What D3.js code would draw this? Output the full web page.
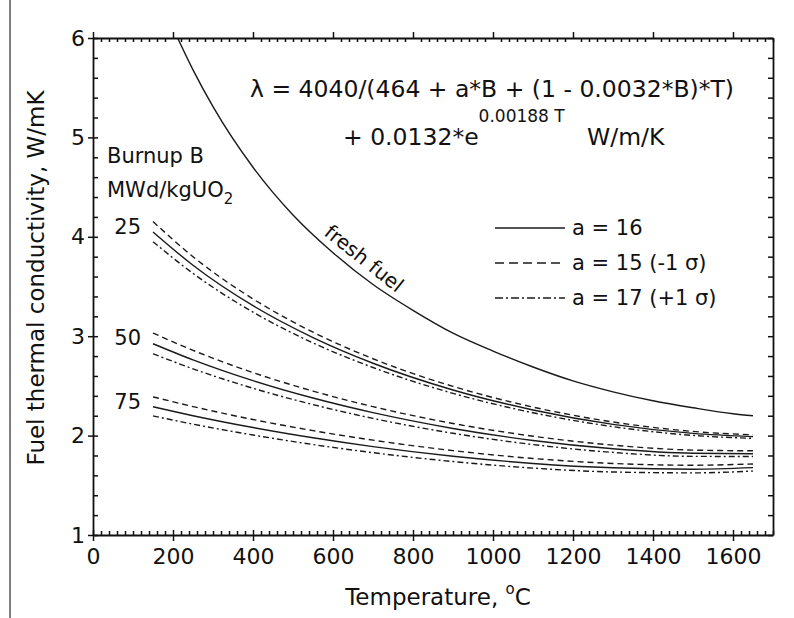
<!DOCTYPE html>
<html>
<head>
<meta charset="utf-8">
<script src="https://cdn.jsdelivr.net/npm/d3@7/dist/d3.min.js"></script>
<style>
  html, body { margin: 0; padding: 0; background: #fff; }
  svg { display: block; }
  text { font-family: "DejaVu Sans", "Liberation Sans", sans-serif; fill: #111; }
</style>
</head>
<body>
<svg id="chart" width="794" height="618"></svg>
<script>
// Temperature grids (°C)
const tempFresh = [200, 250, 300, 400, 500, 600, 700, 800, 900, 1000, 1100, 1200, 1300, 1400, 1500, 1600, 1650];
const tempBurnup = [150, 250, 400, 550, 700, 900, 1100, 1300, 1500, 1650];

// Thermal conductivity, W/m/K
const freshFuel = [6.10, 5.68, 5.31, 4.70, 4.22, 3.84, 3.52, 3.26, 3.03, 2.85, 2.69, 2.55, 2.44, 2.35, 2.28, 2.22, 2.20];

const b25a15 = [4.153, 3.800, 3.375, 3.041, 2.773, 2.495, 2.287, 2.137, 2.042, 2.008];
const b25a16 = [4.049, 3.714, 3.307, 2.986, 2.728, 2.459, 2.258, 2.113, 2.022, 1.990];
const b25a17 = [3.951, 3.632, 3.242, 2.933, 2.685, 2.425, 2.230, 2.090, 2.002, 1.972];

const b50a15 = [3.032, 2.858, 2.634, 2.448, 2.291, 2.122, 1.994, 1.904, 1.854, 1.847];
const b50a16 = [2.924, 2.762, 2.553, 2.378, 2.231, 2.072, 1.951, 1.867, 1.822, 1.818];
const b50a17 = [2.823, 2.672, 2.476, 2.312, 2.173, 2.023, 1.910, 1.831, 1.791, 1.790];

const b75a15 = [2.390, 2.292, 2.162, 2.050, 1.954, 1.849, 1.770, 1.720, 1.702, 1.715];
const b75a16 = [2.290, 2.200, 2.081, 1.978, 1.889, 1.792, 1.720, 1.676, 1.662, 1.678];
const b75a17 = [2.198, 2.115, 2.006, 1.910, 1.828, 1.739, 1.673, 1.634, 1.625, 1.643];

const burnupLabels = ["25", "50", "75"];
const legendLabels = ["a = 16", "a = 15 (-1 σ)", "a = 17 (+1 σ)"];
const xTickLabels = [0, 200, 400, 600, 800, 1000, 1200, 1400, 1600];
const yTickLabels = [1, 2, 3, 4, 5, 6];

// line styles for a = 16, 15, 17 (curves and legend samples)
const dashFor = { a16: null, a15: "6,4", a17: "6,3,2,3" };
const legendDash = [null, "9,5", "8,3,2,3"];

const svg = d3.select("#chart");
const x = d3.scaleLinear().domain([0, 1700]).range([93, 773]);
const y = d3.scaleLinear().domain([1, 6]).range([535, 38]);

// outer figure border on the left
svg.append("line").attr("x1", 10).attr("x2", 10).attr("y1", 0).attr("y2", 618)
  .attr("stroke", "#555").attr("stroke-width", 1.5);

svg.append("clipPath").attr("id", "plotClip").append("rect")
  .attr("x", x(0)).attr("y", y(6)).attr("width", x(1700) - x(0)).attr("height", y(1) - y(6));

// ---- curves ----
const line = d3.line().curve(d3.curveMonotoneX);
const plot = svg.append("g").attr("clip-path", "url(#plotClip)");

function drawCurve(temps, vals, dash) {
  plot.append("path")
    .attr("d", line(temps.map((t, i) => [x(t), y(vals[i])])))
    .attr("fill", "none")
    .attr("stroke", "#1a1a1a")
    .attr("stroke-width", 1.4)
    .attr("stroke-dasharray", dash);
}

drawCurve(tempFresh, freshFuel, null);
const groups = [
  { a15: b25a15, a16: b25a16, a17: b25a17 },
  { a15: b50a15, a16: b50a16, a17: b50a17 },
  { a15: b75a15, a16: b75a16, a17: b75a17 }
];
groups.forEach(g => {
  drawCurve(tempBurnup, g.a15, dashFor.a15);
  drawCurve(tempBurnup, g.a16, dashFor.a16);
  drawCurve(tempBurnup, g.a17, dashFor.a17);
});

// ---- axes ----
const minorX = d3.range(0, 1701, 20).filter(v => v % 200 !== 0);
const minorY = d3.range(10, 61, 2).map(v => v / 10).filter(v => !Number.isInteger(v));
const allY = d3.range(10, 61, 2).map(v => v / 10);

function styleAxis(g, keepDomain) {
  if (!keepDomain) g.select(".domain").remove();
  g.selectAll("line").attr("stroke", "#111").attr("stroke-width", 1.5);
  g.select(".domain").attr("stroke", "#111").attr("stroke-width", 1.8);
  g.selectAll("text").attr("font-size", 22).attr("fill", "#111")
    .style("font-family", "'DejaVu Sans', sans-serif");
}

const yBottom = y(1), yTop = y(6), xLeft = x(0), xRight = x(1700);

// bottom
svg.append("g").attr("transform", `translate(0,${yBottom})`)
  .call(d3.axisBottom(x).tickValues(xTickLabels).tickSizeInner(6).tickSizeOuter(0).tickPadding(7).tickFormat(d3.format("d")))
  .call(g => styleAxis(g, true));
svg.append("g").attr("transform", `translate(0,${yBottom})`)
  .call(d3.axisBottom(x).tickValues(xTickLabels).tickSize(-5).tickFormat(""))
  .call(g => styleAxis(g, false));
svg.append("g").attr("transform", `translate(0,${yBottom})`)
  .call(d3.axisBottom(x).tickValues(minorX).tickSize(-4).tickFormat(""))
  .call(g => styleAxis(g, false));

// top
svg.append("g").attr("transform", `translate(0,${yTop})`)
  .call(d3.axisTop(x).tickValues(xTickLabels).tickSizeInner(6).tickSizeOuter(0).tickFormat(""))
  .call(g => styleAxis(g, true));
svg.append("g").attr("transform", `translate(0,${yTop})`)
  .call(d3.axisTop(x).tickValues(minorX).tickSize(-4).tickFormat(""))
  .call(g => styleAxis(g, false));

// left
svg.append("g").attr("transform", `translate(${xLeft},0)`)
  .call(d3.axisLeft(y).tickValues(yTickLabels).tickSizeInner(5).tickSizeOuter(0).tickPadding(3).tickFormat(d3.format("d")))
  .call(g => styleAxis(g, true));
svg.append("g").attr("transform", `translate(${xLeft},0)`)
  .call(d3.axisLeft(y).tickValues(yTickLabels).tickSize(-5).tickFormat(""))
  .call(g => styleAxis(g, false));
svg.append("g").attr("transform", `translate(${xLeft},0)`)
  .call(d3.axisLeft(y).tickValues(minorY).tickSize(-5).tickFormat(""))
  .call(g => styleAxis(g, false));

// right
svg.append("g").attr("transform", `translate(${xRight},0)`)
  .call(d3.axisRight(y).tickValues(allY).tickSizeInner(-5).tickSizeOuter(0).tickFormat(""))
  .call(g => styleAxis(g, true));

// ---- axis titles ----
const xt = svg.append("text").attr("x", (xLeft + xRight) / 2 + 5).attr("y", 605)
  .attr("text-anchor", "middle").attr("font-size", 23);
xt.append("tspan").text("Temperature, ");
xt.append("tspan").attr("font-size", 15).attr("dy", -11).text("o");
xt.append("tspan").attr("dy", 11).text("C");

svg.append("text")
  .attr("transform", `translate(44,278) rotate(-90)`)
  .attr("text-anchor", "middle").attr("font-size", 23)
  .text("Fuel thermal conductivity, W/mK");

// ---- correlation ----
svg.append("text").attr("x", 492).attr("y", 97).attr("text-anchor", "middle")
  .attr("font-size", 23.5)
  .text("λ = 4040/(464 + a*B + (1 - 0.0032*B)*T)");
const eq2 = svg.append("text").attr("x", 343).attr("y", 145).attr("font-size", 23.5);
eq2.append("tspan").text("+ 0.0132*e");
eq2.append("tspan").attr("font-size", 17).attr("dy", -23).text("0.00188 T");
eq2.append("tspan").attr("x", 587).attr("y", 145).text("W/m/K");

// ---- burnup annotation ----
svg.append("text").attr("x", 107).attr("y", 163).attr("font-size", 21).text("Burnup B");
const unit = svg.append("text").attr("x", 107).attr("y", 197).attr("font-size", 21);
unit.append("tspan").text("MWd/kgUO");
unit.append("tspan").attr("font-size", 15).attr("dy", 7).text("2");

groups.forEach((g, i) => {
  svg.append("text")
    .attr("x", x(tempBurnup[0]) - 12)
    .attr("y", (y(g.a15[0]) + y(g.a16[0])) / 2)
    .attr("text-anchor", "end")
    .attr("dominant-baseline", "central")
    .attr("font-size", 21)
    .text(burnupLabels[i]);
});

// ---- fresh fuel label along the curve ----
{
  const i0 = tempFresh.indexOf(600), i1 = tempFresh.indexOf(700);
  const p0 = [x(tempFresh[i0]), y(freshFuel[i0])];
  const p1 = [x(tempFresh[i1]), y(freshFuel[i1])];
  const ang = Math.atan2(p1[1] - p0[1], p1[0] - p0[0]);
  const cx = (p0[0] + p1[0]) / 2 + Math.sin(ang) * 6 + 3;
  const cy = (p0[1] + p1[1]) / 2 - Math.cos(ang) * 6;
  svg.append("text")
    .attr("transform", `translate(${cx},${cy}) rotate(${ang * 180 / Math.PI})`)
    .attr("text-anchor", "middle").attr("font-size", 20)
    .text("fresh fuel");
}

// ---- legend ----
legendLabels.forEach((lab, i) => {
  const ly = 228 + i * 35;
  svg.append("line").attr("x1", 495).attr("x2", 565).attr("y1", ly).attr("y2", ly)
    .attr("stroke", "#1a1a1a").attr("stroke-width", 1.5)
    .attr("stroke-dasharray", legendDash[i]);
  svg.append("text").attr("x", 572).attr("y", ly).attr("dominant-baseline", "central")
    .attr("font-size", 21).text(lab);
});
</script>
</body>
</html>
